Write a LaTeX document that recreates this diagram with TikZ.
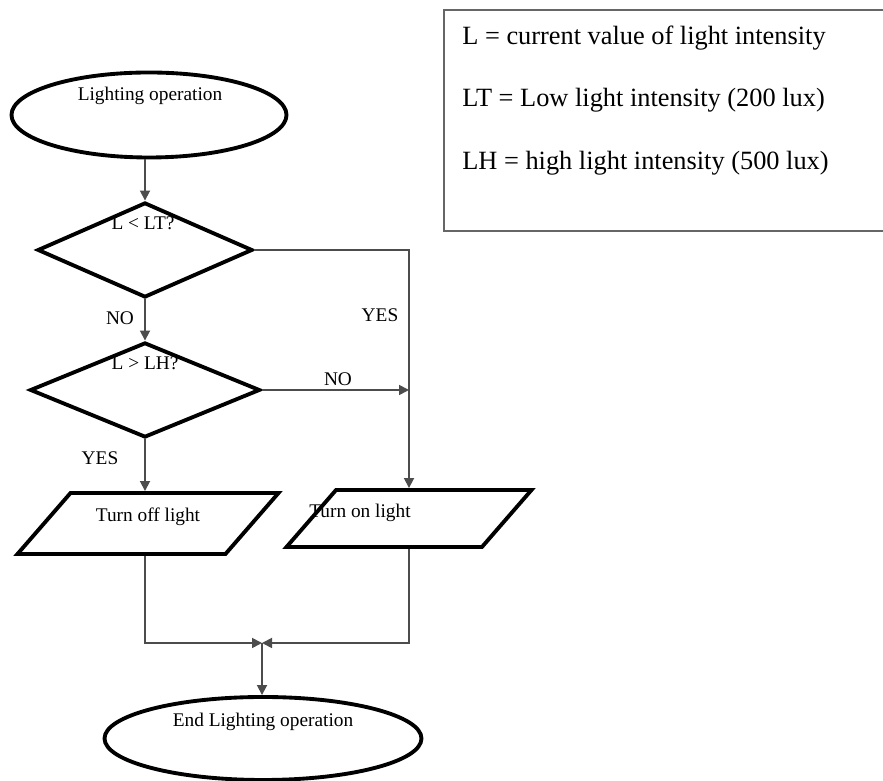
\documentclass[tikz,border=0pt]{standalone}
\usepackage{fontspec}
\setmainfont{Liberation Serif}
\usepackage{tikz}
\usetikzlibrary{shapes.geometric, arrows.meta, positioning}

\tikzset{
  terminal/.style={draw, ellipse, line width=2.2pt, minimum width=#1, minimum height=1.7cm, inner sep=0pt},
  decision/.style={draw, diamond, line width=2.2pt, minimum width=#1, minimum height=1.9cm, inner sep=0pt},
  iobox/.style={draw, trapezium, trapezium left angle=49, trapezium right angle=131,
    trapezium stretches body, line width=2.2pt, minimum width=#1, inner xsep=0pt, inner ysep=0.61cm},
  connector/.style={draw=black!70, line width=1pt, -{Triangle[length=2mm,width=2mm]}},
  lbl/.style={inner sep=0pt, font=\fontsize{11}{13}\selectfont},
  legendtxt/.style={inner sep=0pt, anchor=west, font=\fontsize{15}{18}\selectfont}
}

\begin{document}
\begin{tikzpicture}

% fix the page
\useasboundingbox (0,0) rectangle (17.66,15.62);
\clip (0,0) rectangle (17.66,15.62);

%% legend
\draw[black!60, line width=1.2pt] (8.88,15.42) rectangle (18.2,11.0);
\node[legendtxt] (legL)  at (9.24,14.86) {L = current value of light intensity};
\node[legendtxt] (legLT) at (9.24,13.62) {LT = Low light intensity (200 lux)};
\node[legendtxt] (legLH) at (9.24,12.36) {LH = high light intensity (500 lux)};

%% shapes
\node[terminal=5.5cm] (start) at (2.98,13.32) {};
\node[decision=4.3cm] (lt) at (2.9,10.62) {};
\node[decision=4.6cm] (lh) at (2.9,7.82) {};
\node[iobox=5.22cm] (off) at (2.96,5.15) {};
\node[iobox=4.9cm, inner ysep=0.57cm] (on) at (8.18,5.25) {};
\node[terminal=6.34cm, minimum height=1.66cm] (stop) at (5.26,0.85) {};
\coordinate (merge) at (5.24,2.76);

%% texts in the shapes
\node[lbl] (startlbl) at (3.0,13.7) {Lighting operation};
\node[lbl] (ltlbl) at (2.86,11.16) {L < LT?};
\node[lbl] (lhlbl) at (2.9,8.36) {L > LH?};
\node[lbl] (offlbl) at (2.96,5.28) {Turn off light};
\node[lbl] (onlbl) at (7.2,5.36) {Turn on light};
\node[lbl] (stoplbl) at (5.26,1.18) {End Lighting operation};

%% branch labels
\node[lbl] (yes1) at (7.6,9.32) {YES};
\node[lbl] (no1) at (2.4,9.26) {NO};
\node[lbl] (no2) at (6.76,8.04) {NO};
\node[lbl] (yes2) at (2.0,6.46) {YES};

%% connectors
\draw[connector] (start.south -| lt.north) -- (lt.north);
\draw[connector] (lt.south) -- (lh.north);
\draw[connector] (lt.east) -| (on.north);
\draw[connector] (lh.east) -- (lh.east -| on.north);
\draw[connector] (lh.south) -- (lh.south |- off.north);
\draw[connector] (off.south -| lh.south) |- (merge);
\draw[connector] (on.south) |- (merge);
\draw[connector] (merge) -- (merge |- stop.north);

\end{tikzpicture}
\end{document}
